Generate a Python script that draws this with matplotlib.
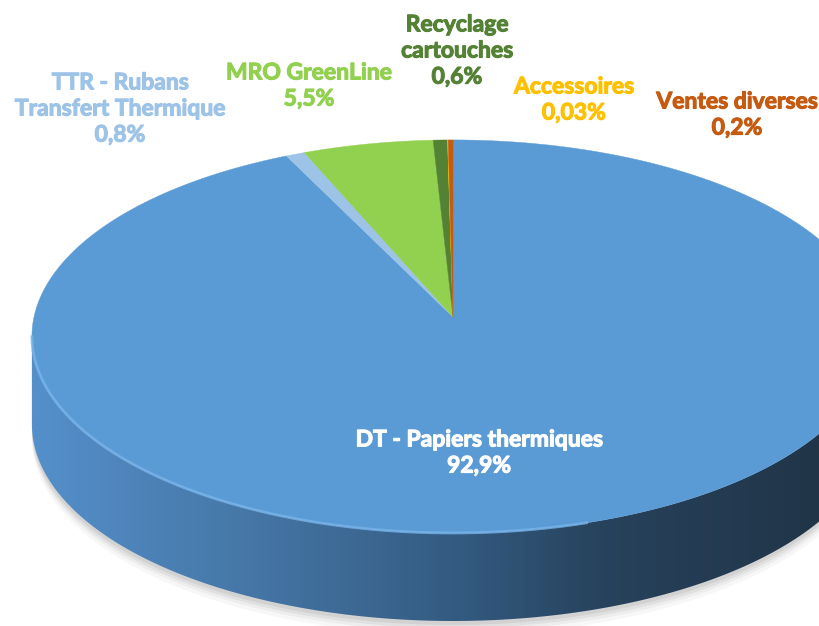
import numpy as np
import matplotlib.pyplot as plt
import matplotlib.patheffects as pe
from matplotlib.patches import Polygon
from matplotlib.colors import LinearSegmentedColormap

# data
labels = ['DT - Papiers thermiques', 'TTR - Rubans\nTransfert Thermique', 'MRO GreenLine',
          'Recyclage\ncartouches', 'Accessoires', 'Ventes diverses']
values = [92.9, 0.8, 5.5, 0.6, 0.03, 0.2]
pct_text = ['92,9%', '0,8%', '5,5%', '0,6%', '0,03%', '0,2%']
colors = ['#5B9BD5', '#9DC3E6', '#92D050', '#548235', '#FFC000', '#C55A11']
label_colors = ['white', '#9DC3E6', '#92D050', '#548235', '#FFC000', '#C55A11']

# label placement (pixels)
label_pos = [(479, 453), (120, 109), (309, 86), (457, 51), (574, 100), (737, 115)]

# 3d disc projection (pixels)
x0, y0 = 453, 317
a, b, c = 419, 194.6, -0.099
depth = 88


def proj(t):
    u = np.sin(t)
    v = -np.cos(t)
    den = 1 + c * v
    return x0 + a * u / den, y0 + b * v / den


fig = plt.figure(figsize=(8.19, 6.26), dpi=100)
ax = fig.add_axes([0, 0, 1, 1])
ax.set_xlim(0, 819)
ax.set_ylim(626, 0)
ax.axis('off')

# visible wall (front half)
t = np.linspace(0, 2 * np.pi, 1441)
ex, ey = proj(t)
i_min, i_max = np.argmin(ex), np.argmax(ex)
idx = np.arange(i_max, i_min + 1)
fx, fy = ex[idx], ey[idx]
wall = np.vstack([np.column_stack([fx, fy]), np.column_stack([fx[::-1], fy[::-1] + depth])])

# soft shadow under the disc
for k, al in zip([14, 10, 7, 4], [0.03, 0.04, 0.05, 0.06]):
    sh = np.vstack([np.column_stack([fx, fy]),
                    np.column_stack([fx[::-1], fy[::-1] + depth + k])])
    ax.add_patch(Polygon(sh, closed=True, facecolor='black', edgecolor='none', alpha=al))

side_cmap = LinearSegmentedColormap.from_list(
    'side', [(0, '#5590CB'), (0.3, '#4474A3'), (0.55, '#335A80'), (0.73, '#27425C'), (1, '#213548')])
wall_patch = Polygon(wall, closed=True, facecolor='none', edgecolor='none')
ax.add_patch(wall_patch)
grad = np.linspace(0, 1, 400).reshape(1, -1)
im = ax.imshow(grad, cmap=side_cmap, extent=(30, 819, 626, 0), aspect='auto', zorder=1)
im.set_clip_path(wall_patch)

# top face slices
frac = np.array(values) / sum(values)
edges = np.concatenate([[0], np.cumsum(frac)]) * 2 * np.pi
for i in range(len(values)):
    tt = np.linspace(edges[i], edges[i + 1], max(int(400 * frac[i]), 2) + 2)
    px, py = proj(tt)
    pts = np.vstack([[x0, y0], np.column_stack([px, py])])
    ax.add_patch(Polygon(pts, closed=True, facecolor=colors[i], edgecolor=colors[i],
                         linewidth=0.3, zorder=2))

# light rim on the front edge
n = len(fx)
ax.plot(fx[int(n * 0.4):], fy[int(n * 0.4):], color='#79B4EA', linewidth=2, alpha=0.8, zorder=3)

for i in range(len(values)):
    ax.text(label_pos[i][0], label_pos[i][1], labels[i] + '\n' + pct_text[i],
            ha='center', va='center', color=label_colors[i], fontsize=16.5,
            fontweight='bold', family='Lato', linespacing=1.3, zorder=5,
            path_effects=[pe.withStroke(linewidth=0.8, foreground=label_colors[i])])

fig.savefig('out.png', dpi=100)
